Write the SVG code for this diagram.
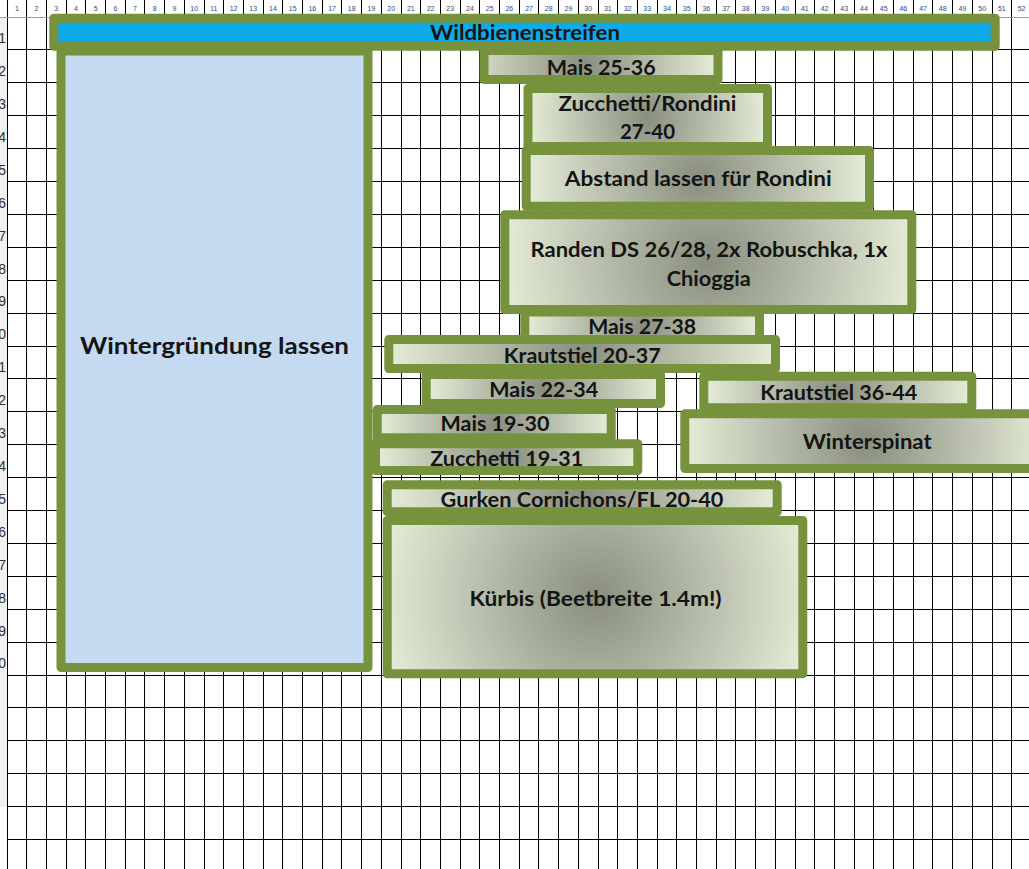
<svg xmlns="http://www.w3.org/2000/svg" width="1029" height="869" viewBox="0 0 1029 869">
<style>
.grid{stroke:#000;stroke-width:1;fill:none;shape-rendering:crispEdges}
.box{stroke:#76923C;stroke-width:9;stroke-linejoin:round}
.t{font-family:Lato,"Liberation Sans",sans-serif;font-weight:bold;font-size:20px;fill:#141414;text-anchor:middle}
.col{font-family:"Liberation Sans",sans-serif;font-size:7px;fill:#2B4A7E;text-anchor:middle}
.row{font-family:"Liberation Sans",sans-serif;font-size:14px;fill:#333;text-anchor:end}
.s0{stop-color:#898E7E}
.s1{stop-color:#E3EAD5}
</style>
<defs>
<radialGradient id="g3" gradientUnits="userSpaceOnUse" cx="585" cy="65" r="129"><stop offset="0" class="s0"/><stop offset="1" class="s1"/></radialGradient>
<radialGradient id="g4" gradientUnits="userSpaceOnUse" cx="647.75" cy="117.5" r="117.8"><stop offset="0" class="s0"/><stop offset="1" class="s1"/></radialGradient>
<radialGradient id="g5" gradientUnits="userSpaceOnUse" cx="697.85" cy="178.35" r="168.8"><stop offset="0" class="s0"/><stop offset="1" class="s1"/></radialGradient>
<radialGradient id="g6" gradientUnits="userSpaceOnUse" cx="708.3" cy="262.15" r="203.6"><stop offset="0" class="s0"/><stop offset="1" class="s1"/></radialGradient>
<radialGradient id="g7" gradientUnits="userSpaceOnUse" cx="642.15" cy="326.75" r="113.3"><stop offset="0" class="s0"/><stop offset="1" class="s1"/></radialGradient>
<radialGradient id="g8" gradientUnits="userSpaceOnUse" cx="582.15" cy="354" r="189.1"><stop offset="0" class="s0"/><stop offset="1" class="s1"/></radialGradient>
<radialGradient id="g9" gradientUnits="userSpaceOnUse" cx="543.35" cy="389" r="113.1"><stop offset="0" class="s0"/><stop offset="1" class="s1"/></radialGradient>
<radialGradient id="g10" gradientUnits="userSpaceOnUse" cx="837.8" cy="392" r="130"><stop offset="0" class="s0"/><stop offset="1" class="s1"/></radialGradient>
<radialGradient id="g11" gradientUnits="userSpaceOnUse" cx="494.2" cy="423.65" r="112.9"><stop offset="0" class="s0"/><stop offset="1" class="s1"/></radialGradient>
<radialGradient id="g12" gradientUnits="userSpaceOnUse" cx="506.65" cy="457.15" r="127"><stop offset="0" class="s0"/><stop offset="1" class="s1"/></radialGradient>
<radialGradient id="g13" gradientUnits="userSpaceOnUse" cx="867" cy="441.15" r="179.2"><stop offset="0" class="s0"/><stop offset="1" class="s1"/></radialGradient>
<radialGradient id="g14" gradientUnits="userSpaceOnUse" cx="582.2" cy="498.3" r="190.7"><stop offset="0" class="s0"/><stop offset="1" class="s1"/></radialGradient>
<radialGradient id="g15" gradientUnits="userSpaceOnUse" cx="595" cy="597.15" r="215.7"><stop offset="0" class="s0"/><stop offset="1" class="s1"/></radialGradient>
</defs>
<rect width="1029" height="869" fill="#fff"/>
<rect x="0" y="17" width="7" height="790" fill="#F0F0F0"/>
<g id="grid">
<path class="grid" d="M7 0V869M26.7 0V869M46.4 0V869M66.1 0V869M85.8 0V869M105.5 0V869M125.2 0V869M144.9 0V869M164.6 0V869M184.3 0V869M204 0V869M223.7 0V869M243.4 0V869M263.1 0V869M282.8 0V869M302.5 0V869M322.2 0V869M341.9 0V869M361.6 0V869M381.3 0V869M401 0V869M420.7 0V869M440.4 0V869M460.1 0V869M479.8 0V869M499.5 0V869M519.2 0V869M538.9 0V869M558.6 0V869M578.3 0V869M598 0V869M617.7 0V869M637.4 0V869M657.1 0V869M676.8 0V869M696.5 0V869M716.2 0V869M735.9 0V869M755.6 0V869M775.3 0V869M795 0V869M814.7 0V869M834.4 0V869M854.1 0V869M873.8 0V869M893.5 0V869M913.2 0V869M932.9 0V869M952.6 0V869M972.3 0V869M992 0V869M1011.7 0V869"/>
<path class="grid" d="M7 49.9H1029M7 82.8H1029M7 115.7H1029M7 148.6H1029M7 181.5H1029M7 214.4H1029M7 247.3H1029M7 280.2H1029M7 313.1H1029M7 346H1029M7 378.9H1029M7 411.8H1029M7 444.7H1029M7 477.6H1029M7 510.5H1029M7 543.4H1029M7 576.3H1029M7 609.2H1029M7 642.1H1029M7 675H1029M7 707.9H1029M7 740.8H1029M7 773.7H1029M7 806.6H1029M7 839.5H1029"/>
<path d="M0 17H1029" stroke="#9A9A9A" stroke-width="1" shape-rendering="crispEdges"/>
<text class="col" y="11"><tspan x="16.85">1</tspan><tspan x="36.55">2</tspan><tspan x="56.25">3</tspan><tspan x="75.95">4</tspan><tspan x="95.65">5</tspan><tspan x="115.35">6</tspan><tspan x="135.05">7</tspan><tspan x="154.75">8</tspan><tspan x="174.45">9</tspan><tspan x="194.15">10</tspan><tspan x="213.85">11</tspan><tspan x="233.55">12</tspan><tspan x="253.25">13</tspan><tspan x="272.95">14</tspan><tspan x="292.65">15</tspan><tspan x="312.35">16</tspan><tspan x="332.05">17</tspan><tspan x="351.75">18</tspan><tspan x="371.45">19</tspan><tspan x="391.15">20</tspan><tspan x="410.85">21</tspan><tspan x="430.55">22</tspan><tspan x="450.25">23</tspan><tspan x="469.95">24</tspan><tspan x="489.65">25</tspan><tspan x="509.35">26</tspan><tspan x="529.05">27</tspan><tspan x="548.75">28</tspan><tspan x="568.45">29</tspan><tspan x="588.15">30</tspan><tspan x="607.85">31</tspan><tspan x="627.55">32</tspan><tspan x="647.25">33</tspan><tspan x="666.95">34</tspan><tspan x="686.65">35</tspan><tspan x="706.35">36</tspan><tspan x="726.05">37</tspan><tspan x="745.75">38</tspan><tspan x="765.45">39</tspan><tspan x="785.15">40</tspan><tspan x="804.85">41</tspan><tspan x="824.55">42</tspan><tspan x="844.25">43</tspan><tspan x="863.95">44</tspan><tspan x="883.65">45</tspan><tspan x="903.35">46</tspan><tspan x="923.05">47</tspan><tspan x="942.75">48</tspan><tspan x="962.45">49</tspan><tspan x="982.15">50</tspan><tspan x="1001.85">51</tspan><tspan x="1021.55">52</tspan></text>
<text class="row" x="6"><tspan x="6" y="43">1</tspan><tspan x="6" y="76">2</tspan><tspan x="6" y="109">3</tspan><tspan x="6" y="142">4</tspan><tspan x="6" y="175">5</tspan><tspan x="6" y="208">6</tspan><tspan x="6" y="241">7</tspan><tspan x="6" y="274">8</tspan><tspan x="6" y="306">9</tspan><tspan x="6" y="339">10</tspan><tspan x="6" y="372">11</tspan><tspan x="6" y="405">12</tspan><tspan x="6" y="438">13</tspan><tspan x="6" y="471">14</tspan><tspan x="6" y="504">15</tspan><tspan x="6" y="537">16</tspan><tspan x="6" y="570">17</tspan><tspan x="6" y="603">18</tspan><tspan x="6" y="636">19</tspan><tspan x="6" y="668">20</tspan></text>
</g>
<g id="connectors"/>
<g id="wildbienenstreifen">
<rect x="53.8" y="18.2" width="941.4" height="28" fill="#0EAAE9" stroke="#76923C" stroke-width="9" stroke-linejoin="round"/>
<text class="t" x="525" y="39.5" textLength="190" lengthAdjust="spacingAndGlyphs">Wildbienenstreifen</text>
</g>
<g id="wintergruendung">
<rect x="61" y="51" width="307" height="616.5" fill="#C5D9F1" stroke="#76923C" stroke-width="9" stroke-linejoin="round"/>
<text class="t" x="214.5" y="354" style="font-size:22px" textLength="269" lengthAdjust="spacingAndGlyphs">Wintergründung lassen</text>
</g>
<g id="mais-25-36">
<rect class="box" fill="url(#g3)" x="484" y="50.5" width="234" height="29"/>
<text class="t" x="601.3" y="74.7" textLength="109" lengthAdjust="spacingAndGlyphs">Mais 25-36</text>
</g>
<g id="zucchetti-rondini">
<rect class="box" fill="url(#g4)" x="528" y="88.5" width="239.5" height="58"/>
<text class="t" x="647.5" y="111" textLength="178" lengthAdjust="spacingAndGlyphs">Zucchetti/Rondini</text>
<text class="t" x="647.5" y="139.3" textLength="55" lengthAdjust="spacingAndGlyphs">27-40</text>
</g>
<g id="abstand">
<rect class="box" fill="url(#g5)" x="526.2" y="150.5" width="343.3" height="55.7"/>
<text class="t" x="698.3" y="185.7" textLength="267" lengthAdjust="spacingAndGlyphs">Abstand lassen für Rondini</text>
</g>
<g id="randen">
<rect class="box" fill="url(#g6)" x="504.8" y="214.8" width="407" height="94.7"/>
<text class="t" x="709" y="256.7" textLength="357" lengthAdjust="spacingAndGlyphs">Randen DS 26/28, 2x Robuschka, 1x</text>
<text class="t" x="708.7" y="285.7" textLength="84" lengthAdjust="spacingAndGlyphs">Chioggia</text>
</g>
<g id="mais-27-38">
<rect class="box" fill="url(#g7)" x="524.8" y="312" width="234.7" height="29.5"/>
<text class="t" x="642.2" y="334" textLength="108" lengthAdjust="spacingAndGlyphs">Mais 27-38</text>
</g>
<g id="krautstiel-20-37">
<rect class="box" fill="url(#g8)" x="388.8" y="339.5" width="386.7" height="29"/>
<text class="t" x="582.3" y="362.7" textLength="157" lengthAdjust="spacingAndGlyphs">Krautstiel 20-37</text>
</g>
<g id="mais-22-34">
<rect class="box" fill="url(#g9)" x="426.2" y="374.5" width="234.3" height="29"/>
<text class="t" x="543.8" y="396.7" textLength="109" lengthAdjust="spacingAndGlyphs">Mais 22-34</text>
</g>
<g id="krautstiel-36-44">
<rect class="box" fill="url(#g10)" x="703.8" y="376.2" width="268" height="31.6"/>
<text class="t" x="838.7" y="400" textLength="157" lengthAdjust="spacingAndGlyphs">Krautstiel 36-44</text>
</g>
<g id="mais-19-30">
<rect class="box" fill="url(#g11)" x="377.2" y="409.5" width="234" height="28.3"/>
<text class="t" x="495" y="431" textLength="109" lengthAdjust="spacingAndGlyphs">Mais 19-30</text>
</g>
<g id="zucchetti-19-31">
<rect class="box" fill="url(#g12)" x="375.5" y="443.8" width="262.3" height="26.7"/>
<text class="t" x="506.7" y="465.7" textLength="153" lengthAdjust="spacingAndGlyphs">Zucchetti 19-31</text>
</g>
<g id="winterspinat">
<rect class="box" fill="url(#g13)" x="684.8" y="413.8" width="364.4" height="54.7"/>
<text class="t" x="867.2" y="449" textLength="129" lengthAdjust="spacingAndGlyphs">Winterspinat</text>
</g>
<g id="gurken">
<rect class="box" fill="url(#g14)" x="387.2" y="484.8" width="390" height="27"/>
<text class="t" x="582" y="506.7" textLength="283" lengthAdjust="spacingAndGlyphs">Gurken Cornichons/FL 20-40</text>
</g>
<g id="kuerbis">
<rect class="box" fill="url(#g15)" x="387.2" y="520.5" width="415.6" height="153.3"/>
<text class="t" x="595.5" y="606" textLength="252" lengthAdjust="spacingAndGlyphs">Kürbis (Beetbreite 1.4m!)</text>
</g>
</svg>
